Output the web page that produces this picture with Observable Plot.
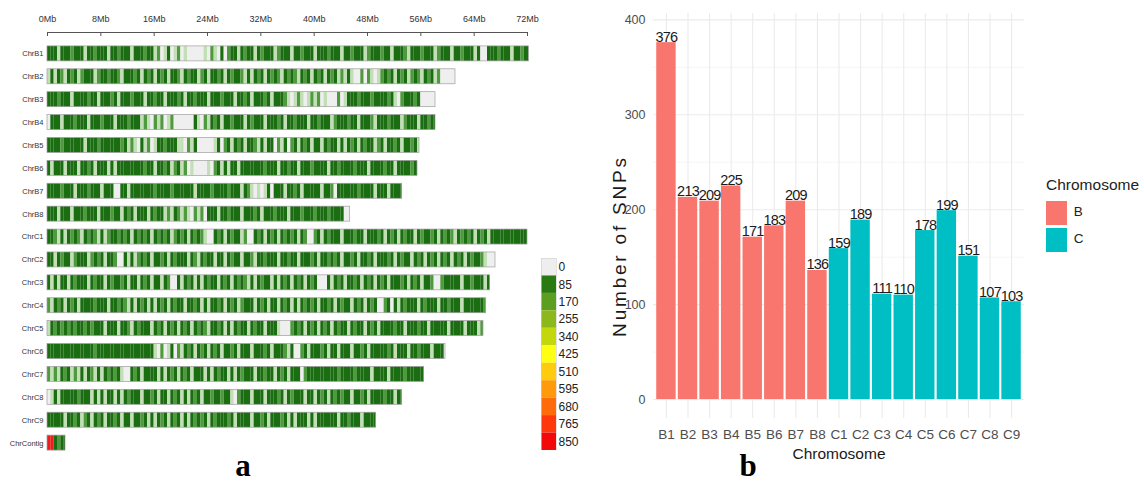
<!DOCTYPE html>
<html>
<head>
<meta charset="utf-8">
<script src="https://cdn.jsdelivr.net/npm/d3@7"></script>
<script src="https://cdn.jsdelivr.net/npm/@observablehq/plot@0.6"></script>
<style>
  body { margin: 0; background: #fff; }
  #root { position: relative; width: 1144px; height: 487px; background: #fff; overflow: hidden; }
  .abs { position: absolute; }
  .panel-letter { font-family: "Liberation Serif", "DejaVu Serif", serif; font-weight: bold; font-size: 31px; line-height: 31px; width: 40px; text-align: center; color: #000; }
  #legb-title { font-family: "Liberation Sans", Arial, sans-serif; font-size: 15.5px; color: #222; white-space: nowrap; }
  #legendB { width: 98px; }
  #panelB g[aria-label="y-axis label"] text { font-size: 19px; letter-spacing: 2.8px; fill: #1a1a1a; }
  #panelB g[aria-label="x-axis label"] text { font-size: 15.5px; fill: #1a1a1a; }
  #panelB g[aria-label="text"] text { letter-spacing: -0.8px; }
  #legb-sw div { padding-bottom: 3px !important; }
</style>
</head>
<body>
<div id="root">
  <div id="panelA" class="abs" style="left:0;top:0"></div>
  <div id="legendA" class="abs" style="left:541px;top:258px"></div>
  <div id="panelB" class="abs" style="left:590px;top:0"></div>
  <div id="legendB" class="abs" style="left:1046px;top:176px">
    <div id="legb-title">Chromosome</div>
    <div id="legb-sw" style="margin-top:7px"></div>
  </div>
  <div class="abs panel-letter" style="left:223px;top:450px">a</div>
  <div class="abs panel-letter" style="left:728px;top:450px">b</div>
</div>
<script>
// ---------------- Panel a data ----------------
const chromNames = ["ChrB1","ChrB2","ChrB3","ChrB4","ChrB5","ChrB6","ChrB7","ChrB8",
  "ChrC1","ChrC2","ChrC3","ChrC4","ChrC5","ChrC6","ChrC7","ChrC8","ChrC9","ChrContig"];
const chromLengthsMb = [72.2, 61.2, 58.2, 58.2, 55.8, 55.5, 53.2, 45.4,
  72.0, 67.2, 66.4, 65.8, 65.4, 59.7, 56.5, 53.2, 49.3, 2.7];
const binSizeMb = 0.5;
// one character per 0.5 Mb bin: 0 = no SNP, 1 = low, 2 = medium, 3 = high density, R = 850
const binPatterns = [
  "3331333233 3133233313 3233313332 3312013012 0100000102 1030233132 3313233312 3331332333 1333233313 3233312333 2331333213 3323331233 3133233313 0033323331 33233",
  "1313213231 2333123323 3213332313 2313231332 1323312313 3231323321 3132313232 1323213231 3231323121 3100202101 2323132312 3213231200 000",
  "3332333133 3323313332 3133323331 3323313332 3133233313 3323331332 3133323133 3210121012 1201000201 3332333233 3323102333 2300000",
  "0333133323 3313332333 1333233312 1021201200 0000310213 2313323331 3233313332 3133233313 3233312333 2331333213 3323331233 3133233",
  "3333233333 3133323333 3323121031 2013323331 1021300000 1302313231 3321313302 1302313231 3313233131 3231323312 3133231332 31",
  "3133313331 3323133313 1333333332 3313323123 1201000010 2313133133 3333323331 3323313332 3333133233 3323331333 32331333323",
  "3333233313 3323331333 0033133333 3323333233 3333133332 3333233313 2101013033 3133231333 3313320333 3332333313 3313333",
  "3331333133 3233313332 3313231333 1323312132 1210212033 3133233313 3323133323 3313332333 233323333",
  "3321313232 1323213123 3232313232 3132323123 2313232100 3231323312 0032313231 3232313200 2313233313 3323313332 3132313233 1323323132 3213232313 2313333333 3333",
  "3313233123 3312323133 2003131232 3133231323 3313213233 1331323313 3213323331 3323313332 3133232313 3231332313 3323132331 3231323132 3132313233 210000",
  "3131331323 3313233132 3323133132 3133132003 1323131323 3132313232 1313233131 3231323132 3000313231 3323132313 2313332313 2313320023 3333133233 313",
  "2132313231 3333233313 3232131323 1313231323 3133231313 3231323123 3313231331 3231313232 3133231323 3132313230 0230313233 3132333133 2333133333 32",
  "1323232323 3232333133 3133213233 3132313231 3231323213 3231313233 1323313331 0002323132 3132313233 1323313231 3333233133 3233133333 1333313331 2",
  "3333333333 3333233333 3333333333 3310201302 1323132313 2313323133 3133323133 3213002313 3323133133 3133231333 3323133313 323331333",
  "2121323121 3132131323 2310032313 3331313231 3231333131 3233131323 3313323313 2313330233 3333333233 3323333133 3313333233 333",
  "0131333332 3331313133 1313233313 3231331323 1313231332 3323310233 3133313332 3132333133 1323132323 3133231333 3233133",
  "3333313323 1231323133 2313313323 1313231323 1313232313 2333231333 3133231333 2313133313 1333333133 233313333",
  "RR3233"
];
const densityCodes = ["0", "1", "2", "3", "R"];
const densityColors = ["#efefef", "#c2dfb6", "#4f9a3f", "#1b6d12", "#ee1c1c"];
const axisTicksMb = [0, 8, 16, 24, 32, 40, 48, 56, 64, 72];

// legend of panel a
const legendLabels = ["0","85","170","255","340","425","510","595","680","765","850"];
const legendColors = ["#eeeeee","#2a7a12","#5c9e1e","#8cb81b","#c3d80c","#ffff14",
  "#ffcb0e","#ff9b0b","#ff6a0b","#ff390b","#f20a0a"];

// ---------------- Panel b data ----------------
const barChromosomes = ["B1","B2","B3","B4","B5","B6","B7","B8",
  "C1","C2","C3","C4","C5","C6","C7","C8","C9"];
const barSnpCounts = [376, 213, 209, 225, 171, 183, 209, 136,
  159, 189, 111, 110, 178, 199, 151, 107, 103];
const barGenome = ["B","B","B","B","B","B","B","B","C","C","C","C","C","C","C","C","C"];
const genomeNames = ["B", "C"];
const genomeColors = ["#F8766D", "#00BFC4"];
const yTicksMajor = [0, 100, 200, 300, 400];
const yTicksMinor = [50, 150, 250, 350];

const sans = '"Liberation Sans", Arial, sans-serif';

// ---------- build panel a ----------
const chromRows = chromNames.map((name, i) => ({name, start: 0, end: chromLengthsMb[i]}));
const bins = [];
chromNames.forEach((name, i) => {
  const pat = binPatterns[i].replace(/\s+/g, "");
  const len = chromLengthsMb[i];
  for (let k = 0; k < pat.length; k++) {
    const s = k * binSizeMb;
    if (s >= len) break;
    bins.push({chr: name, start: s, end: Math.min(s + binSizeMb, len), level: pat[k]});
  }
});

const plotA = Plot.plot({
  width: 560,
  height: 487,
  marginLeft: 47,
  marginRight: 33,
  marginTop: 32,
  marginBottom: 29,
  style: {fontFamily: sans, color: "#333", background: "transparent"},
  x: {domain: [0, 72]},
  y: {domain: chromNames, padding: 0.345, insetTop: 6, round: false},
  color: {domain: densityCodes, range: densityColors},
  marks: [
    Plot.frame({anchor: "top", stroke: "#555"}),
    Plot.axisX(axisTicksMb, {anchor: "top", tickSize: 0, tickPadding: 11, tickFormat: d => d + "Mb", fontSize: 9, fill: "#333"}),
    Plot.axisX(axisTicksMb, {anchor: "top", tickSize: -3, tickFormat: () => "", stroke: "#555", label: null}),
    Plot.axisY({tickSize: 0, tickPadding: 4, fontSize: 7.5, fill: "#333", label: null}),
    Plot.barX(chromRows, {x1: "start", x2: "end", y: "name", fill: "#efefef"}),
    Plot.barX(bins, {x1: "start", x2: "end", y: "chr", fill: "level"}),
    Plot.barX(chromRows, {x1: "start", x2: "end", y: "name", fill: "none", stroke: "#a0a0a0", strokeWidth: 0.7})
  ]
});
document.getElementById("panelA").appendChild(plotA);

const legA = Plot.plot({
  width: 50,
  height: 192,
  marginLeft: 0,
  marginRight: 35,
  marginTop: 0,
  marginBottom: 0,
  style: {fontFamily: sans, background: "transparent"},
  y: {domain: legendLabels, padding: 0, round: false},
  color: {domain: legendLabels, range: legendColors},
  marks: [
    Plot.cell(legendLabels, {y: d => d, fill: d => d}),
    Plot.axisY({anchor: "right", tickSize: 0, tickPadding: 2, fontSize: 12, fill: "#222", label: null}),
    Plot.frame({stroke: "#cfcfcf", strokeWidth: 0.6})
  ]
});
document.getElementById("legendA").appendChild(legA);

// ---------- build panel b ----------
const bars = barChromosomes.map((chr, i) => ({chr, count: barSnpCounts[i], genome: barGenome[i]}));
const plotB = Plot.plot({
  width: 440,
  height: 487,
  marginLeft: 63,
  marginRight: 6,
  marginTop: 13,
  marginBottom: 69,
  style: {fontFamily: sans, background: "transparent"},
  x: {domain: barChromosomes, paddingInner: 0.1, paddingOuter: 0.15, round: false},
  y: {domain: [-20, 406.7]},
  color: {domain: genomeNames, range: genomeColors},
  marks: [
    Plot.gridY(yTicksMinor, {stroke: "#efefef", strokeOpacity: 1, strokeWidth: 0.6}),
    Plot.gridY(yTicksMajor, {stroke: "#ebebeb", strokeOpacity: 1, strokeWidth: 1.1}),
    Plot.gridX({stroke: "#ebebeb", strokeOpacity: 1, strokeWidth: 1.1}),
    Plot.barY(bars, {x: "chr", y: "count", fill: "genome"}),
    Plot.text(bars, {x: "chr", y: "count", text: d => String(d.count), lineAnchor: "bottom", dy: -1, fontSize: 14.5, fill: "#1a1a1a"}),
    Plot.axisY(yTicksMajor, {tickSize: 0, tickPadding: 8, fontSize: 12.5, fill: "#4d4d4d", label: "Number of SNPs", labelAnchor: "center", labelArrow: "none", labelOffset: 43}),
    Plot.axisX({tickSize: 0, tickPadding: 11, fontSize: 13.5, fill: "#4d4d4d", label: "Chromosome", labelAnchor: "center", labelArrow: "none", labelOffset: 40})
  ]
});
document.getElementById("panelB").appendChild(plotB);
// shift the y-axis title down to where the reference places it
const yLab = plotB.querySelector('g[aria-label="y-axis label"]');
if (yLab) {
  const t = yLab.getAttribute("transform") || "";
  yLab.setAttribute("transform", "translate(2,30) " + t);
}

const legB = Plot.legend({
  color: {type: "ordinal", domain: genomeNames, range: genomeColors},
  legend: "swatches",
  columns: 1,
  swatchWidth: 21,
  swatchHeight: 24,
  style: {fontFamily: sans, fontSize: "13.5px", color: "#222"}
});
document.getElementById("legb-sw").appendChild(legB);
</script>
</body>
</html>
